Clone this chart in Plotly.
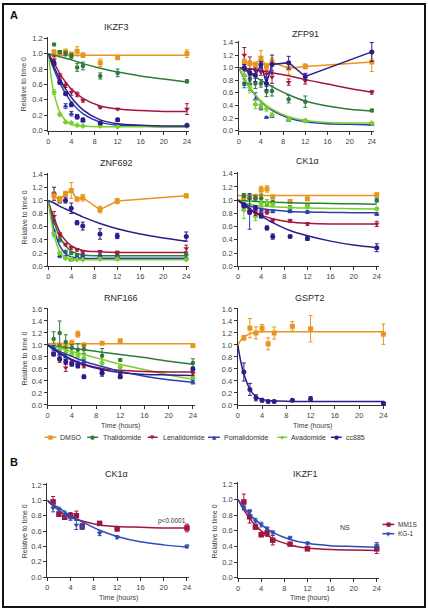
import plotly.graph_objects as go

W, H = 428, 615

# ---------------- data ----------------
TIMES = [1, 2, 3, 4, 5, 6, 9, 12, 24]
FIT_TIMES = [0, 0.5, 1, 2, 3, 4, 6, 9, 12, 16, 20, 24]
X_TICKS = [0, 4, 8, 12, 16, 20, 24]

COMPOUNDS = ["DMSO", "Thalidomide", "Lenalidomide", "Pomalidomide", "Avadomide", "cc885"]
CELL_LINES = ["MM1S", "KG-1"]
PANEL_TITLES = ["IKZF3", "ZFP91", "ZNF692", "CK1α", "RNF166", "GSPT2", "CK1α", "IKZF1"]

# IKZF3
IKZF3_DMSO = [1.02, 1.01, 1.02, 0.99, 1.03, 0.98, 0.88, 0.95, 1.00]
IKZF3_DMSO_ERR = [0.03, 0.02, 0.04, 0.03, 0.06, 0.03, 0.05, 0.03, 0.05]
IKZF3_DMSO_FIT = [0.98, 0.98, 0.98, 0.98, 0.98, 0.98, 0.98, 0.98, 0.98, 0.98, 0.98, 0.98]
IKZF3_THAL = [1.12, 1.02, 1.00, 0.97, 0.82, 0.84, 0.71, 0.75, 0.64]
IKZF3_THAL_ERR = [0.0, 0.02, 0.03, 0.03, 0.05, 0.05, 0.04, 0.05, 0.02]
IKZF3_THAL_FIT = [1.0, 0.99, 0.98, 0.96, 0.94, 0.92, 0.87, 0.81, 0.76, 0.71, 0.67, 0.63]
IKZF3_LEN = [0.92, 0.71, 0.59, 0.50, 0.47, 0.39, 0.30, 0.28, 0.28]
IKZF3_LEN_ERR = [0.04, 0.03, 0.03, 0.04, 0.03, 0.02, 0.01, 0.01, 0.07]
IKZF3_LEN_FIT = [1.0, 0.94, 0.88, 0.74, 0.63, 0.54, 0.42, 0.32, 0.28, 0.26, 0.25, 0.25]
IKZF3_POM = [0.87, 0.63, 0.32, 0.22, 0.18, 0.13, 0.10, 0.07, 0.07]
IKZF3_POM_ERR = [0.03, 0.03, 0.03, 0.03, 0.03, 0.02, 0.01, 0.01, 0.01]
IKZF3_POM_FIT = [1.0, 0.89, 0.79, 0.62, 0.48, 0.37, 0.22, 0.11, 0.07, 0.06, 0.05, 0.05]
IKZF3_AVA = [0.50, 0.21, 0.11, 0.10, 0.07, 0.06, 0.06, 0.05, 0.06]
IKZF3_AVA_ERR = [0.03, 0.02, 0.01, 0.01, 0.01, 0.01, 0.01, 0.01, 0.01]
IKZF3_AVA_FIT = [1.0, 0.70, 0.48, 0.24, 0.13, 0.08, 0.06, 0.05, 0.05, 0.05, 0.05, 0.05]
IKZF3_CC885 = [0.88, 0.63, 0.48, 0.34, 0.18, 0.14, 0.10, 0.14, 0.07]
IKZF3_CC885_ERR = [0.02, 0.02, 0.02, 0.03, 0.02, 0.02, 0.01, 0.02, 0.01]
IKZF3_CC885_FIT = [1.0, 0.91, 0.83, 0.67, 0.54, 0.43, 0.27, 0.14, 0.09, 0.07, 0.06, 0.06]

# ZFP91
ZFP91_DMSO = [1.09, 1.07, 1.05, 1.15, 1.02, 1.09, 0.99, 1.02, 1.09]
ZFP91_DMSO_ERR = [0.05, 0.04, 0.04, 0.12, 0.05, 0.06, 0.10, 0.04, 0.15]
ZFP91_THAL = [0.75, 0.82, 0.75, 0.75, 0.62, 0.63, 0.50, 0.46, 0.32]
ZFP91_THAL_ERR = [0.07, 0.07, 0.08, 0.06, 0.08, 0.08, 0.06, 0.09, 0.02]
ZFP91_THAL_FIT = [1.0, 0.98, 0.96, 0.91, 0.85, 0.80, 0.70, 0.57, 0.47, 0.39, 0.34, 0.31]
ZFP91_LEN = [1.20, 0.97, 0.95, 0.93, 0.90, 0.85, 0.77, 0.79, 0.61]
ZFP91_LEN_ERR = [0.12, 0.20, 0.05, 0.05, 0.05, 0.10, 0.05, 0.05, 0.03]
ZFP91_LEN_FIT = [1.0, 0.995, 0.99, 0.98, 0.97, 0.95, 0.92, 0.87, 0.81, 0.74, 0.67, 0.61]
ZFP91_POM = [0.87, 0.74, 0.50, 0.36, 0.21, 0.23, 0.17, 0.16, 0.10]
ZFP91_POM_ERR = [0.15, 0.10, 0.10, 0.03, 0.01, 0.02, 0.02, 0.02, 0.01]
ZFP91_POM_FIT = [1.0, 0.91, 0.83, 0.68, 0.56, 0.46, 0.32, 0.20, 0.14, 0.11, 0.10, 0.09]
ZFP91_AVA = [0.88, 0.68, 0.42, 0.41, 0.35, 0.25, 0.18, 0.15, 0.12]
ZFP91_AVA_ERR = [0.10, 0.08, 0.07, 0.06, 0.04, 0.03, 0.02, 0.02, 0.01]
ZFP91_AVA_FIT = [1.0, 0.92, 0.84, 0.69, 0.57, 0.47, 0.34, 0.22, 0.16, 0.13, 0.12, 0.12]
ZFP91_CC885 = [1.00, 0.92, 0.88, 1.05, 0.75, 1.05, 1.08, 0.86, 1.25]
ZFP91_CC885_ERR = [0.05, 0.05, 0.10, 0.05, 0.10, 0.15, 0.10, 0.05, 0.15]

# ZNF692
ZNF692_DMSO = [1.07, 1.01, 1.10, 1.15, 1.02, 1.04, 0.86, 0.99, 1.07]
ZNF692_DMSO_ERR = [0.06, 0.05, 0.04, 0.12, 0.03, 0.05, 0.05, 0.04, 0.03]
ZNF692_THAL = [0.68, 0.40, 0.22, 0.20, 0.17, 0.17, 0.16, 0.17, 0.18]
ZNF692_THAL_ERR = [0.04, 0.03, 0.02, 0.02, 0.02, 0.02, 0.02, 0.02, 0.02]
ZNF692_THAL_FIT = [1.0, 0.82, 0.67, 0.45, 0.31, 0.23, 0.17, 0.16, 0.16, 0.16, 0.16, 0.16]
ZNF692_LEN = [0.76, 0.48, 0.33, 0.28, 0.25, 0.22, 0.22, 0.21, 0.27]
ZNF692_LEN_ERR = [0.07, 0.03, 0.02, 0.02, 0.02, 0.02, 0.02, 0.02, 0.05]
ZNF692_LEN_FIT = [1.0, 0.85, 0.73, 0.52, 0.39, 0.31, 0.24, 0.22, 0.21, 0.21, 0.21, 0.21]
ZNF692_POM = [0.52, 0.16, 0.14, 0.10, 0.13, 0.15, 0.15, 0.14, 0.12]
ZNF692_POM_ERR = [0.03, 0.03, 0.02, 0.02, 0.01, 0.01, 0.01, 0.01, 0.01]
ZNF692_POM_FIT = [1.0, 0.75, 0.56, 0.31, 0.19, 0.14, 0.12, 0.12, 0.12, 0.12, 0.12, 0.12]
ZNF692_AVA = [0.48, 0.20, 0.12, 0.11, 0.10, 0.10, 0.11, 0.11, 0.10]
ZNF692_AVA_ERR = [0.03, 0.02, 0.01, 0.01, 0.01, 0.01, 0.01, 0.01, 0.01]
ZNF692_AVA_FIT = [1.0, 0.70, 0.48, 0.22, 0.13, 0.10, 0.10, 0.10, 0.10, 0.10, 0.10, 0.10]
ZNF692_CC885 = [1.10, 1.00, 1.00, 0.88, 0.66, 0.61, 0.49, 0.46, 0.45]
ZNF692_CC885_ERR = [0.10, 0.04, 0.04, 0.08, 0.03, 0.06, 0.08, 0.04, 0.07]
ZNF692_CC885_FIT = [1.0, 0.98, 0.96, 0.91, 0.87, 0.83, 0.75, 0.65, 0.57, 0.49, 0.43, 0.38]

# CK1a (panel A)
CK1A_DMSO = [1.03, 1.05, 1.05, 1.16, 1.17, 1.05, 0.98, 1.02, 1.08]
CK1A_DMSO_ERR = [0.03, 0.04, 0.04, 0.05, 0.05, 0.02, 0.02, 0.02, 0.03]
CK1A_DMSO_FIT = [1.07, 1.07, 1.07, 1.07, 1.07, 1.07, 1.07, 1.07, 1.07, 1.07, 1.07, 1.07]
CK1A_THAL = [1.07, 1.03, 1.03, 1.03, 0.95, 0.97, 0.88, 0.92, 1.00]
CK1A_THAL_ERR = [0.03, 0.05, 0.04, 0.06, 0.03, 0.03, 0.04, 0.03, 0.03]
CK1A_THAL_FIT = [1.0, 0.995, 0.99, 0.985, 0.98, 0.975, 0.97, 0.96, 0.955, 0.95, 0.945, 0.94]
CK1A_LEN = [0.92, 0.83, 0.80, 0.79, 0.82, 0.69, 0.69, 0.64, 0.64]
CK1A_LEN_ERR = [0.03, 0.04, 0.03, 0.03, 0.03, 0.02, 0.02, 0.02, 0.04]
CK1A_LEN_FIT = [1.0, 0.96, 0.93, 0.86, 0.81, 0.77, 0.72, 0.67, 0.65, 0.64, 0.64, 0.64]
CK1A_POM = [0.92, 0.83, 0.88, 0.85, 0.83, 0.83, 0.83, 0.82, 0.79]
CK1A_POM_ERR = [0.04, 0.27, 0.04, 0.03, 0.03, 0.02, 0.02, 0.02, 0.02]
CK1A_POM_FIT = [1.0, 0.97, 0.95, 0.91, 0.89, 0.87, 0.85, 0.83, 0.82, 0.815, 0.81, 0.81]
CK1A_AVA = [0.85, 0.93, 0.75, 0.95, 0.97, 0.93, 0.87, 0.90, 0.87]
CK1A_AVA_ERR = [0.13, 0.05, 0.06, 0.04, 0.04, 0.03, 0.04, 0.03, 0.02]
CK1A_AVA_FIT = [1.0, 0.98, 0.96, 0.94, 0.92, 0.91, 0.90, 0.89, 0.88, 0.875, 0.87, 0.865]
CK1A_CC885 = [0.92, 0.82, 0.88, 0.76, 0.58, 0.45, 0.45, 0.42, 0.28]
CK1A_CC885_ERR = [0.03, 0.03, 0.03, 0.03, 0.03, 0.04, 0.02, 0.03, 0.06]
CK1A_CC885_FIT = [1.0, 0.97, 0.94, 0.87, 0.81, 0.76, 0.66, 0.54, 0.46, 0.38, 0.32, 0.28]

# RNF166
RNF166_DMSO = [1.00, 1.00, 0.97, 1.03, 1.18, 1.00, 1.03, 1.07, 0.99]
RNF166_DMSO_ERR = [0.02, 0.02, 0.02, 0.05, 0.05, 0.03, 0.02, 0.02, 0.02]
RNF166_DMSO_FIT = [1.02, 1.02, 1.02, 1.02, 1.02, 1.02, 1.02, 1.02, 1.02, 1.02, 1.02, 1.02]
RNF166_THAL = [1.10, 1.20, 1.05, 0.95, 0.92, 0.93, 0.82, 0.75, 0.70]
RNF166_THAL_ERR = [0.12, 0.20, 0.12, 0.06, 0.10, 0.07, 0.12, 0.02, 0.07]
RNF166_THAL_FIT = [1.0, 0.99, 0.985, 0.97, 0.96, 0.945, 0.92, 0.88, 0.84, 0.79, 0.73, 0.68]
RNF166_LEN = [0.85, 0.74, 0.62, 0.70, 0.67, 0.65, 0.56, 0.52, 0.53]
RNF166_LEN_ERR = [0.03, 0.03, 0.06, 0.03, 0.03, 0.03, 0.03, 0.03, 0.04]
RNF166_LEN_FIT = [1.0, 0.97, 0.93, 0.87, 0.81, 0.76, 0.68, 0.61, 0.58, 0.56, 0.55, 0.55]
RNF166_POM = [0.95, 0.85, 0.80, 0.72, 0.70, 0.72, 0.56, 0.48, 0.38]
RNF166_POM_ERR = [0.04, 0.03, 0.04, 0.03, 0.03, 0.03, 0.04, 0.03, 0.03]
RNF166_POM_FIT = [1.0, 0.98, 0.95, 0.89, 0.85, 0.81, 0.73, 0.64, 0.56, 0.48, 0.42, 0.38]
RNF166_AVA = [0.97, 0.92, 0.88, 0.85, 0.83, 0.78, 0.70, 0.63, 0.45]
RNF166_AVA_ERR = [0.04, 0.03, 0.04, 0.03, 0.04, 0.04, 0.03, 0.02, 0.03]
RNF166_AVA_FIT = [1.0, 0.99, 0.98, 0.95, 0.92, 0.89, 0.84, 0.76, 0.68, 0.59, 0.50, 0.43]
RNF166_CC885 = [0.85, 0.77, 0.72, 0.68, 0.65, 0.47, 0.53, 0.47, 0.60]
RNF166_CC885_ERR = [0.03, 0.03, 0.04, 0.03, 0.03, 0.03, 0.05, 0.03, 0.03]
RNF166_CC885_FIT = [1.0, 0.96, 0.93, 0.86, 0.80, 0.75, 0.67, 0.59, 0.54, 0.51, 0.50, 0.49]

# GSPT2
GSPT2_DMSO = [1.12, 1.28, 1.20, 1.28, 1.02, 1.20, 1.31, 1.27, 1.18]
GSPT2_DMSO_ERR = [0.04, 0.16, 0.10, 0.06, 0.10, 0.10, 0.08, 0.22, 0.17]
GSPT2_DMSO_FIT = [1.0, 1.08, 1.13, 1.19, 1.21, 1.22, 1.22, 1.22, 1.22, 1.22, 1.22, 1.22]
GSPT2_CC885 = [0.55, 0.26, 0.12, 0.08, 0.06, 0.06, 0.08, 0.10, 0.03]
GSPT2_CC885_ERR = [0.15, 0.10, 0.05, 0.03, 0.02, 0.02, 0.01, 0.04, 0.01]
GSPT2_CC885_FIT = [1.0, 0.72, 0.52, 0.26, 0.14, 0.09, 0.07, 0.06, 0.06, 0.06, 0.06, 0.06]

# Panel B: CK1a
B_CK1A_MM1S = [0.98, 0.82, 0.78, 0.80, 0.80, 0.66, 0.70, 0.63, 0.64]
B_CK1A_MM1S_ERR = [0.07, 0.03, 0.03, 0.04, 0.06, 0.03, 0.02, 0.03, 0.05]
B_CK1A_MM1S_FIT = [1.0, 0.96, 0.93, 0.87, 0.82, 0.78, 0.73, 0.68, 0.66, 0.65, 0.64, 0.64]
B_CK1A_KG1 = [0.90, 0.88, 0.82, 0.77, 0.68, 0.66, 0.57, 0.52, 0.40]
B_CK1A_KG1_ERR = [0.05, 0.03, 0.04, 0.03, 0.06, 0.04, 0.03, 0.02, 0.02]
B_CK1A_KG1_FIT = [1.0, 0.975, 0.95, 0.90, 0.85, 0.80, 0.72, 0.61, 0.53, 0.46, 0.42, 0.39]

# Panel B: IKZF1
B_IKZF1_MM1S = [0.97, 0.78, 0.65, 0.55, 0.57, 0.48, 0.43, 0.37, 0.37]
B_IKZF1_MM1S_ERR = [0.10, 0.08, 0.03, 0.02, 0.04, 0.06, 0.01, 0.02, 0.06]
B_IKZF1_MM1S_FIT = [1.0, 0.93, 0.87, 0.76, 0.67, 0.60, 0.50, 0.42, 0.38, 0.36, 0.355, 0.35]
B_IKZF1_KG1 = [0.90, 0.84, 0.73, 0.68, 0.63, 0.58, 0.51, 0.44, 0.41]
B_IKZF1_KG1_ERR = [0.03, 0.03, 0.03, 0.03, 0.02, 0.02, 0.02, 0.02, 0.04]
B_IKZF1_KG1_FIT = [1.0, 0.95, 0.90, 0.81, 0.74, 0.68, 0.58, 0.49, 0.44, 0.41, 0.40, 0.39]

# ---------------- styles ----------------
COLORS = {"DMSO": "#E8951E", "Thalidomide": "#2E7B3C", "Lenalidomide": "#A3163E",
          "Pomalidomide": "#2B3FB0", "Avadomide": "#79D02C", "cc885": "#2E1C88",
          "MM1S": "#A0153E", "KG-1": "#2C4DB5"}
SYMBOLS = {"DMSO": "square", "Thalidomide": "circle", "Lenalidomide": "triangle-down",
           "Pomalidomide": "triangle-up", "Avadomide": "diamond", "cc885": "circle",
           "MM1S": "square", "KG-1": "triangle-down"}
GLYPHS = {"DMSO": "■", "Thalidomide": "●", "Lenalidomide": "▼", "Pomalidomide": "▲",
          "Avadomide": "◆", "cc885": "●", "MM1S": "■", "KG-1": "▼"}
SIZES = {"DMSO": 5, "Thalidomide": 4.5, "Lenalidomide": 5, "Pomalidomide": 5,
         "Avadomide": 4.5, "cc885": 5, "MM1S": 5.5, "KG-1": 5}

# panel geometry in pixels: x(t=0), x(t=24), y(v=0), y(top tick), top tick value
GEOM = [
    (46.7, 186.7, 129.3, 35.7, 1.2),
    (239.0, 373.3, 129.3, 40.0, 1.4),
    (46.7, 186.0, 266.7, 173.3, 1.4),
    (238.3, 378.3, 266.7, 173.0, 1.4),
    (46.0, 192.7, 407.3, 310.0, 1.6),
    (238.0, 385.0, 407.3, 310.0, 1.6),
    (45.7, 186.7, 581.7, 488.3, 1.2),
    (238.3, 378.3, 582.3, 487.3, 1.2),
]
TITLE_POS = [(116, 24), (306, 31.5), (116, 162.5), (308, 160.5), (120, 298.5), (311, 298.5),
             (116, 477), (306, 477)]

# series per panel (name, values, errors, fit, connected)
PANELS = [
    [("DMSO", IKZF3_DMSO, IKZF3_DMSO_ERR, IKZF3_DMSO_FIT, False),
     ("Thalidomide", IKZF3_THAL, IKZF3_THAL_ERR, IKZF3_THAL_FIT, False),
     ("Lenalidomide", IKZF3_LEN, IKZF3_LEN_ERR, IKZF3_LEN_FIT, False),
     ("Pomalidomide", IKZF3_POM, IKZF3_POM_ERR, IKZF3_POM_FIT, False),
     ("Avadomide", IKZF3_AVA, IKZF3_AVA_ERR, IKZF3_AVA_FIT, False),
     ("cc885", IKZF3_CC885, IKZF3_CC885_ERR, IKZF3_CC885_FIT, False)],
    [("Thalidomide", ZFP91_THAL, ZFP91_THAL_ERR, ZFP91_THAL_FIT, False),
     ("Lenalidomide", ZFP91_LEN, ZFP91_LEN_ERR, ZFP91_LEN_FIT, False),
     ("Pomalidomide", ZFP91_POM, ZFP91_POM_ERR, ZFP91_POM_FIT, False),
     ("Avadomide", ZFP91_AVA, ZFP91_AVA_ERR, ZFP91_AVA_FIT, False),
     ("DMSO", ZFP91_DMSO, ZFP91_DMSO_ERR, None, True),
     ("cc885", ZFP91_CC885, ZFP91_CC885_ERR, None, True)],
    [("Thalidomide", ZNF692_THAL, ZNF692_THAL_ERR, ZNF692_THAL_FIT, False),
     ("Lenalidomide", ZNF692_LEN, ZNF692_LEN_ERR, ZNF692_LEN_FIT, False),
     ("Pomalidomide", ZNF692_POM, ZNF692_POM_ERR, ZNF692_POM_FIT, False),
     ("Avadomide", ZNF692_AVA, ZNF692_AVA_ERR, ZNF692_AVA_FIT, False),
     ("cc885", ZNF692_CC885, ZNF692_CC885_ERR, ZNF692_CC885_FIT, False),
     ("DMSO", ZNF692_DMSO, ZNF692_DMSO_ERR, None, True)],
    [("DMSO", CK1A_DMSO, CK1A_DMSO_ERR, CK1A_DMSO_FIT, False),
     ("Thalidomide", CK1A_THAL, CK1A_THAL_ERR, CK1A_THAL_FIT, False),
     ("Avadomide", CK1A_AVA, CK1A_AVA_ERR, CK1A_AVA_FIT, False),
     ("Pomalidomide", CK1A_POM, CK1A_POM_ERR, CK1A_POM_FIT, False),
     ("Lenalidomide", CK1A_LEN, CK1A_LEN_ERR, CK1A_LEN_FIT, False),
     ("cc885", CK1A_CC885, CK1A_CC885_ERR, CK1A_CC885_FIT, False)],
    [("DMSO", RNF166_DMSO, RNF166_DMSO_ERR, RNF166_DMSO_FIT, False),
     ("Thalidomide", RNF166_THAL, RNF166_THAL_ERR, RNF166_THAL_FIT, False),
     ("Avadomide", RNF166_AVA, RNF166_AVA_ERR, RNF166_AVA_FIT, False),
     ("Lenalidomide", RNF166_LEN, RNF166_LEN_ERR, RNF166_LEN_FIT, False),
     ("Pomalidomide", RNF166_POM, RNF166_POM_ERR, RNF166_POM_FIT, False),
     ("cc885", RNF166_CC885, RNF166_CC885_ERR, RNF166_CC885_FIT, False)],
    [("DMSO", GSPT2_DMSO, GSPT2_DMSO_ERR, GSPT2_DMSO_FIT, False),
     ("cc885", GSPT2_CC885, GSPT2_CC885_ERR, GSPT2_CC885_FIT, False)],
    [("MM1S", B_CK1A_MM1S, B_CK1A_MM1S_ERR, B_CK1A_MM1S_FIT, False),
     ("KG-1", B_CK1A_KG1, B_CK1A_KG1_ERR, B_CK1A_KG1_FIT, False)],
    [("MM1S", B_IKZF1_MM1S, B_IKZF1_MM1S_ERR, B_IKZF1_MM1S_FIT, False),
     ("KG-1", B_IKZF1_KG1, B_IKZF1_KG1_ERR, B_IKZF1_KG1_FIT, False)],
]

SANS = "Liberation Sans, Arial, sans-serif"
TICKFONT = dict(family=SANS, size=7.5, color="#444")
X_MAX = 24.4

fig = go.Figure()
layout = dict(width=W, height=H, margin=dict(l=0, r=0, t=0, b=0),
              paper_bgcolor="white", plot_bgcolor="white", showlegend=False)
annotations = []
shapes = []


def paper_x(px):
    return px / W


def paper_y(py):
    return 1 - py / H


for i, (geom, series) in enumerate(zip(GEOM, PANELS)):
    n = i + 1
    x0, x24, y0, yt, ytop = geom
    pxh = (x24 - x0) / 24.0
    pxv = (y0 - yt) / ytop
    yrange_top = ytop + 0.02
    xd = [paper_x(x0), paper_x(x0 + pxh * X_MAX)]
    yd = [paper_y(y0), paper_y(y0 - pxv * yrange_top)]
    xk = "xaxis" if n == 1 else f"xaxis{n}"
    yk = "yaxis" if n == 1 else f"yaxis{n}"
    xref = "x" if n == 1 else f"x{n}"
    yref = "y" if n == 1 else f"y{n}"
    yvals = [round(v * 0.2, 1) for v in range(int(round(ytop / 0.2)) + 1)]
    layout[xk] = dict(domain=xd, range=[0, X_MAX], anchor=yref, tickvals=X_TICKS,
                      showline=True, linecolor="#333", linewidth=1, ticks="outside",
                      ticklen=3, tickwidth=1, tickcolor="#333", showgrid=False,
                      zeroline=False, tickfont=TICKFONT, fixedrange=True)
    layout[yk] = dict(domain=yd, range=[0, yrange_top], anchor=xref, tickvals=yvals,
                      tickformat=".1f", showline=True, linecolor="#333", linewidth=1,
                      ticks="outside", ticklen=3, tickwidth=1, tickcolor="#333",
                      showgrid=False, zeroline=False, tickfont=TICKFONT, fixedrange=True)
    for name, vals, errs, fit, connected in series:
        c = COLORS[name]
        if fit is not None:
            fig.add_trace(go.Scatter(x=FIT_TIMES, y=fit, mode="lines", xaxis=xref, yaxis=yref,
                                     line=dict(color=c, width=1.5, shape="spline", smoothing=0.9),
                                     hoverinfo="skip", cliponaxis=False))
        fig.add_trace(go.Scatter(
            x=TIMES, y=vals, mode="lines+markers" if connected else "markers",
            xaxis=xref, yaxis=yref, name=name,
            line=dict(color=c, width=1.5),
            marker=dict(color=c, symbol=SYMBOLS[name], size=SIZES[name]),
            error_y=dict(type="data", array=errs, color=c, thickness=1, width=2),
            cliponaxis=False))
    tx, ty = TITLE_POS[i]
    annotations.append(dict(text=PANEL_TITLES[i], x=paper_x(tx), y=paper_y(ty), xref="paper", yref="paper",
                            showarrow=False, xanchor="center", yanchor="middle",
                            font=dict(family=SANS, size=9, color="#2a2a2a")))

# y-axis titles
for (yx, yy) in [(22.5, 82), (22.5, 217), (22.5, 360), (22.5, 535), (214.5, 535)]:
    annotations.append(dict(text="Relative to time 0", x=paper_x(yx), y=paper_y(yy), xref="paper", yref="paper",
                            showarrow=False, textangle=-90, xanchor="center", yanchor="middle",
                            font=dict(family=SANS, size=7, color="#3a3a3a")))
# x-axis titles
for (xx, xy) in [(120, 429), (313, 429), (118, 603), (310, 603)]:
    annotations.append(dict(text="Time (hours)", x=paper_x(xx), y=paper_y(xy), xref="paper", yref="paper",
                            showarrow=False, xanchor="center", yanchor="middle",
                            font=dict(family=SANS, size=7, color="#3a3a3a")))

# panel letters
annotations.append(dict(text="<b>A</b>", x=paper_x(6), y=paper_y(12), xref="paper", yref="paper", showarrow=False,
                        xanchor="left", yanchor="middle", font=dict(family=SANS, size=11, color="#111")))
annotations.append(dict(text="<b>B</b>", x=paper_x(6), y=paper_y(465), xref="paper", yref="paper", showarrow=False,
                        xanchor="left", yanchor="middle", font=dict(family=SANS, size=11, color="#111")))

# stats labels
annotations.append(dict(text="p<0.0001", x=paper_x(172), y=paper_y(525), xref="paper", yref="paper", showarrow=False,
                        xanchor="center", yanchor="middle", font=dict(family=SANS, size=6.5, color="#333")))
annotations.append(dict(text="NS", x=paper_x(346), y=paper_y(531), xref="paper", yref="paper", showarrow=False,
                        xanchor="center", yanchor="middle", font=dict(family=SANS, size=7, color="#333")))

# legend keys (layout only)
LEG_A = [(43, 55, 57), (86, 97, 100), (147, 157, 160), (208, 220, 222), (278, 288, 290), (332, 343, 345)]
LEG_B = [(384, 396, 397.5, 528.3), (384, 396, 397.5, 537.7)]


def legend_item(name, lx0, lx1, tx, ly, fs):
    c = COLORS[name]
    shapes.append(dict(type="line", xref="paper", yref="paper", x0=paper_x(lx0), x1=paper_x(lx1),
                       y0=paper_y(ly), y1=paper_y(ly), line=dict(color=c, width=1.5)))
    annotations.append(dict(text=GLYPHS[name], x=paper_x((lx0 + lx1) / 2), y=paper_y(ly), xref="paper",
                            yref="paper", showarrow=False, xanchor="center", yanchor="middle",
                            font=dict(family="DejaVu Sans", size=5.5, color=c)))
    annotations.append(dict(text=name, x=paper_x(tx), y=paper_y(ly), xref="paper", yref="paper",
                            showarrow=False, xanchor="left", yanchor="middle",
                            font=dict(family=SANS, size=fs, color="#333")))


for name, (a, b, t) in zip(COMPOUNDS, LEG_A):
    legend_item(name, a, b, t, 440, 7)
for name, (a, b, t, ly) in zip(CELL_LINES, LEG_B):
    legend_item(name, a, b, t, ly, 6.5)

# outer frame
shapes.append(dict(type="rect", xref="paper", yref="paper", x0=paper_x(1), y0=paper_y(612),
                   x1=paper_x(427), y1=paper_y(1), line=dict(color="#111", width=2), layer="above"))

layout["annotations"] = annotations
layout["shapes"] = shapes
fig.update_layout(**layout)
fig.write_html("out.html", config={"displayModeBar": False},
               post_script="document.body.style.margin='0';document.body.style.overflow='hidden';")
